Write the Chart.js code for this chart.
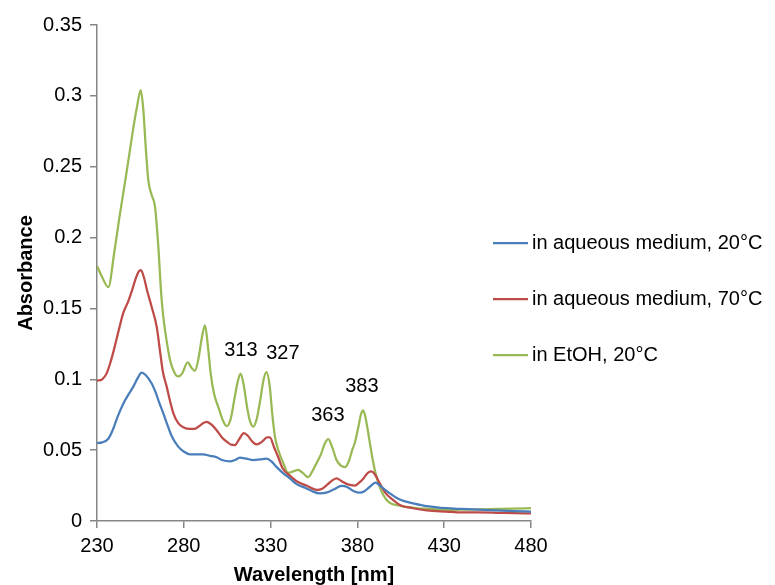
<!DOCTYPE html>
<html>
<head>
<meta charset="utf-8">
<script src="https://cdn.jsdelivr.net/npm/chart.js@4.4.1/dist/chart.umd.min.js"></script>
<style>
  html, body { margin: 0; padding: 0; background: #fff; }
  #wrap { width: 775px; height: 585px; }
</style>
</head>
<body>
<div id="wrap"><canvas id="chart" width="775" height="585"></canvas></div>
<script>
// series names and colours (Excel-ish palette)
const seriesLabels = ['in aqueous medium, 20°C', 'in aqueous medium, 70°C', 'in EtOH, 20°C'];
const seriesColors = ['#4a7ebb', '#be4b48', '#98b954'];

// in aqueous medium, 20°C
const blueNm = [230, 233, 236.5, 239, 242, 245.2, 248, 251, 253.5, 255.7, 258, 261.5, 264, 266, 268.2, 270.5, 273, 276.8,
  280, 283.5, 287, 291.2, 295, 298.9, 302, 306.6, 309.5, 312.3, 316, 320, 324, 327.7, 330.5, 333.5, 337, 341.1, 345,
  350.7, 354, 358.4, 362, 366, 370.9, 374, 378, 381.4, 384, 387, 390.5, 393, 396, 398.7, 403, 407, 412, 420, 431.3,
  440, 450, 460, 470, 480];
const blueAbs = [0.055, 0.0555, 0.058, 0.064, 0.074, 0.083, 0.089, 0.095, 0.101, 0.1047, 0.103, 0.097, 0.090, 0.083, 0.076, 0.068, 0.060, 0.0525,
  0.049, 0.047, 0.047, 0.047, 0.046, 0.045, 0.043, 0.042, 0.043, 0.0447, 0.044, 0.043, 0.0435, 0.044, 0.042, 0.038, 0.034, 0.030, 0.026,
  0.023, 0.021, 0.0195, 0.020, 0.022, 0.0247, 0.024, 0.021, 0.020, 0.021, 0.024, 0.027, 0.025, 0.022, 0.0195, 0.016, 0.014, 0.0125, 0.0105, 0.009,
  0.0085, 0.008, 0.0075, 0.007, 0.0066];

// in aqueous medium, 70°C
const redNm = [230, 233, 235.5, 238, 240, 243, 245.2, 248, 250, 252, 254, 255.3, 257, 259, 261.5, 264.4, 266.5, 268, 270.1, 272, 274, 276.8,
  280, 283.5, 286, 289, 291, 293.1, 296, 298.9, 302, 304.7, 307, 309.4, 312, 314.6, 317, 319.5, 321.9, 324, 326, 328, 329.6, 332, 334.4,
  337, 341.1, 345, 350.7, 356.5, 360, 363, 366, 368, 371, 374, 378.5, 381, 383.5, 386, 388, 390, 392.9, 396, 400.6, 405, 412, 420,
  431.3, 440, 450, 460, 470, 480];
const redAbs = [0.099, 0.100, 0.104, 0.113, 0.122, 0.137, 0.147, 0.155, 0.162, 0.170, 0.176, 0.177, 0.172, 0.162, 0.151, 0.137, 0.118, 0.105, 0.095, 0.085, 0.076, 0.069,
  0.066, 0.065, 0.065, 0.067, 0.069, 0.070, 0.068, 0.064, 0.059, 0.056, 0.054, 0.0536, 0.058, 0.062, 0.060, 0.056, 0.054, 0.055, 0.057, 0.059, 0.059, 0.052, 0.045,
  0.037, 0.032, 0.028, 0.025, 0.022, 0.023, 0.026, 0.029, 0.030, 0.028, 0.026, 0.025, 0.027, 0.030, 0.034, 0.035, 0.033, 0.0266, 0.020, 0.0148, 0.011, 0.009, 0.0075,
  0.0066, 0.006, 0.006, 0.0058, 0.0055, 0.0054];

// in EtOH, 20°C
const greenNm = [230, 233, 236.5, 240, 243, 246, 249, 251, 253, 255.2, 256.7, 258, 259.6, 261.5, 263.4, 265.3, 267, 268.2, 270, 272, 274.5, 276.8,
  279, 282.2, 284.5, 286.4, 288.5, 290.5, 292.2, 294, 295.5, 297.4, 300, 302.5, 304.7, 307, 309, 311, 312.7, 314.5, 316.5, 318, 320,
  322, 324, 326, 327.7, 329.5, 331, 332.5, 335, 337.3, 340, 343, 345.9, 348.5, 351.6, 354, 356.5, 359, 361, 363.2, 365.5, 368, 370.5,
  372.8, 375, 377, 378.5, 380.5, 382, 383.3, 384.5, 386, 387.2, 389, 391, 393.5, 396.8, 400, 404, 408.3, 415, 422, 431.3, 440, 450,
  460, 470, 480];
const greenAbs = [0.180, 0.172, 0.165, 0.190, 0.215, 0.238, 0.262, 0.278, 0.292, 0.304, 0.290, 0.265, 0.240, 0.230, 0.222, 0.194, 0.160, 0.144, 0.128, 0.114, 0.105, 0.102,
  0.104, 0.112, 0.108, 0.106, 0.115, 0.130, 0.138, 0.122, 0.104, 0.090, 0.080, 0.071, 0.067, 0.072, 0.085, 0.098, 0.104, 0.096, 0.080, 0.071, 0.0666,
  0.072, 0.085, 0.100, 0.105, 0.095, 0.075, 0.0595, 0.048, 0.041, 0.034, 0.035, 0.036, 0.034, 0.031, 0.035, 0.041, 0.047, 0.054, 0.0577, 0.052, 0.043, 0.039,
  0.038, 0.042, 0.050, 0.055, 0.066, 0.075, 0.078, 0.074, 0.064, 0.055, 0.042, 0.031, 0.022, 0.0148, 0.012, 0.011, 0.010, 0.009, 0.0085, 0.0078, 0.008, 0.0082,
  0.0085, 0.0088, 0.009];

// peak annotations (text anchored in data units)
const peakLabels = ['313', '327', '363', '383'];
const peakNm = [312.9, 337.1, 363, 382.6];
const peakAbs = [0.120, 0.118, 0.0748, 0.0946];

const xTicks = [230, 280, 330, 380, 430, 480];

const FONT = "'Liberation Sans', Arial, sans-serif";
const AXIS_GREY = '#868686';

function toPoints(xs, ys) {
    return xs.map((x, i) => ({x: x, y: ys[i]}));
}

const seriesData = [
    toPoints(blueNm, blueAbs),
    toPoints(redNm, redAbs),
    toPoints(greenNm, greenAbs),
];

const datasets = seriesData.map((pts, i) => ({
    label: seriesLabels[i],
    data: pts,
    borderColor: seriesColors[i],
    backgroundColor: seriesColors[i],
    borderWidth: 2.25,
    pointRadius: 0,
    cubicInterpolationMode: 'monotone',
    fill: false,
}));

// peak numbers above the EtOH curve
const peakTextPlugin = {
    id: 'peakText',
    afterDatasetsDraw(chart) {
        const ctx = chart.ctx;
        const xs = chart.scales.x;
        const ys = chart.scales.y;
        ctx.save();
        ctx.font = '20px ' + FONT;
        ctx.fillStyle = '#000';
        ctx.textAlign = 'center';
        ctx.textBaseline = 'middle';
        peakLabels.forEach((txt, i) => {
            ctx.fillText(txt, xs.getPixelForValue(peakNm[i]), ys.getPixelForValue(peakAbs[i]));
        });
        ctx.restore();
    }
};

// legend on the right, drawn by hand so the rows sit like the original
const sideLegendPlugin = {
    id: 'sideLegend',
    afterDraw(chart) {
        const ctx = chart.ctx;
        const area = chart.chartArea;
        const rowY = [area.top + 218, area.top + 274, area.top + 330];
        ctx.save();
        ctx.font = '20px ' + FONT;
        ctx.textBaseline = 'middle';
        ctx.textAlign = 'left';
        chart.data.datasets.forEach((ds, i) => {
            const y = rowY[i];
            ctx.strokeStyle = ds.borderColor;
            ctx.lineWidth = 2.25;
            ctx.beginPath();
            ctx.moveTo(area.right - 38, y);
            ctx.lineTo(area.right - 3, y);
            ctx.stroke();
            ctx.fillStyle = '#000';
            ctx.fillText(ds.label, area.right + 1, y);
        });
        ctx.restore();
    }
};

new Chart(document.getElementById('chart'), {
    type: 'line',
    data: {datasets: datasets},
    options: {
        responsive: false,
        animation: false,
        devicePixelRatio: 1,
        layout: {
            padding: {top: 25, right: 244, bottom: 0, left: 0},
        },
        plugins: {
            legend: {display: false},
            tooltip: {enabled: false},
        },
        scales: {
            x: {
                type: 'linear',
                min: 230,
                max: 480,
                afterFit: scale => { scale.height = 64; },
                afterBuildTicks: scale => { scale.ticks = xTicks.map(v => ({value: v})); },
                border: {display: true, color: AXIS_GREY, width: 1.5},
                grid: {drawOnChartArea: false, drawTicks: true, tickLength: 7, color: AXIS_GREY, lineWidth: 1.5},
                ticks: {
                    color: '#000',
                    font: {family: FONT, size: 20},
                    padding: 6,
                    maxRotation: 0,
                    autoSkip: false,
                },
                title: {
                    display: true,
                    text: 'Wavelength [nm]',
                    color: '#000',
                    font: {family: FONT, size: 20, weight: 'bold', lineHeight: 1},
                    padding: {top: 0, bottom: 0},
                },
            },
            y: {
                min: 0,
                max: 0.35,
                afterFit: scale => { scale.width = 97; },
                border: {display: true, color: AXIS_GREY, width: 1.5},
                grid: {drawOnChartArea: false, drawTicks: true, tickLength: 7, color: AXIS_GREY, lineWidth: 1.5},
                ticks: {
                    stepSize: 0.05,
                    color: '#000',
                    font: {family: FONT, size: 20},
                    padding: 8,
                    callback: v => String(+v.toFixed(2)),
                },
                title: {
                    display: true,
                    text: 'Absorbance',
                    color: '#000',
                    font: {family: FONT, size: 20, weight: 'bold', lineHeight: 1.2},
                    padding: {top: 14, bottom: 0},
                },
            },
        },
    },
    plugins: [peakTextPlugin, sideLegendPlugin],
});
</script>
</body>
</html>
